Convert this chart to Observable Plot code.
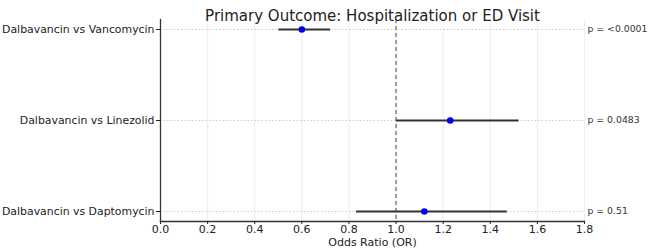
<!DOCTYPE html>
<html>
<head>
<meta charset="utf-8">
<script src="https://cdn.jsdelivr.net/npm/d3@7"></script>
<script src="https://cdn.jsdelivr.net/npm/@observablehq/plot@0.6"></script>
<style>
  body { margin: 0; background: #fff; }
  #chart svg { display: block; }
</style>
</head>
<body>
<div id="chart"></div>
<script>
// Forest plot of odds ratios with 95% confidence intervals
const comparisons = ["Dalbavancin vs Vancomycin", "Dalbavancin vs Linezolid", "Dalbavancin vs Daptomycin"];
const oddsRatios = [0.60, 1.23, 1.12];
const ciLower = [0.50, 1.00, 0.83];
const ciUpper = [0.72, 1.52, 1.47];
const pLabels = ["p = <0.0001", "p = 0.0483", "p = 0.51"];
const xTicks = [0.0, 0.2, 0.4, 0.6, 0.8, 1.0, 1.2, 1.4, 1.6, 1.8];

const rows = comparisons.map((name, i) => ({
  name, or: oddsRatios[i], lo: ciLower[i], hi: ciUpper[i], p: pLabels[i]
}));

const font = "DejaVu Sans, sans-serif";

const chart = Plot.plot({
  width: 650,
  height: 251,
  marginLeft: 160,
  marginRight: 66,
  marginTop: 19,
  marginBottom: 30,
  style: { fontFamily: font, background: "#fff" },
  x: { domain: [0, 1.8] },
  y: { type: "point", domain: comparisons, padding: 0.098 },
  marks: [
    // light vertical grid
    Plot.ruleX(xTicks, { stroke: "#e8e8e8", strokeWidth: 0.8 }),
    // dotted row guides
    Plot.ruleY(comparisons, { stroke: "#bdbdbd", strokeWidth: 0.8, strokeDasharray: "1.5,2" }),
    // reference line at OR = 1
    Plot.ruleX([1], { stroke: "#666", strokeWidth: 1.2, strokeDasharray: "4,3" }),
    // confidence intervals
    Plot.link(rows, { x1: "lo", x2: "hi", y1: "name", y2: "name", stroke: "#333", strokeWidth: 1.8 }),
    // point estimates
    Plot.dot(rows, { x: "or", y: "name", r: 3.3, fill: "#0000ee", stroke: "none" }),
    // p-values on the right
    Plot.text(rows, { x: 1.8, y: "name", text: "p", dx: 3, textAnchor: "start", fontSize: 9.3, fill: "#333" }),
    // spines
    Plot.frame({ anchor: "left", stroke: "#333", strokeWidth: 1.3 }),
    Plot.frame({ anchor: "bottom", stroke: "#333", strokeWidth: 1.3 }),
    Plot.axisX({ ticks: xTicks, tickFormat: d3.format(".1f"), tickSize: 3, tickPadding: 1, fontSize: 11, label: null, color: "#222" }),
    Plot.axisY({ tickSize: 4, tickPadding: 2, fontSize: 10.9, label: null, color: "#222" }),
    // axis title and chart title
    Plot.text(["Odds Ratio (OR)"], { frameAnchor: "bottom", dy: 24, fontSize: 11, fill: "#222" }),
    Plot.text(["Primary Outcome: Hospitalization or ED Visit"], { frameAnchor: "top", dy: -9, fontSize: 15, fill: "#222" })
  ]
});

document.getElementById("chart").append(chart);
</script>
</body>
</html>
